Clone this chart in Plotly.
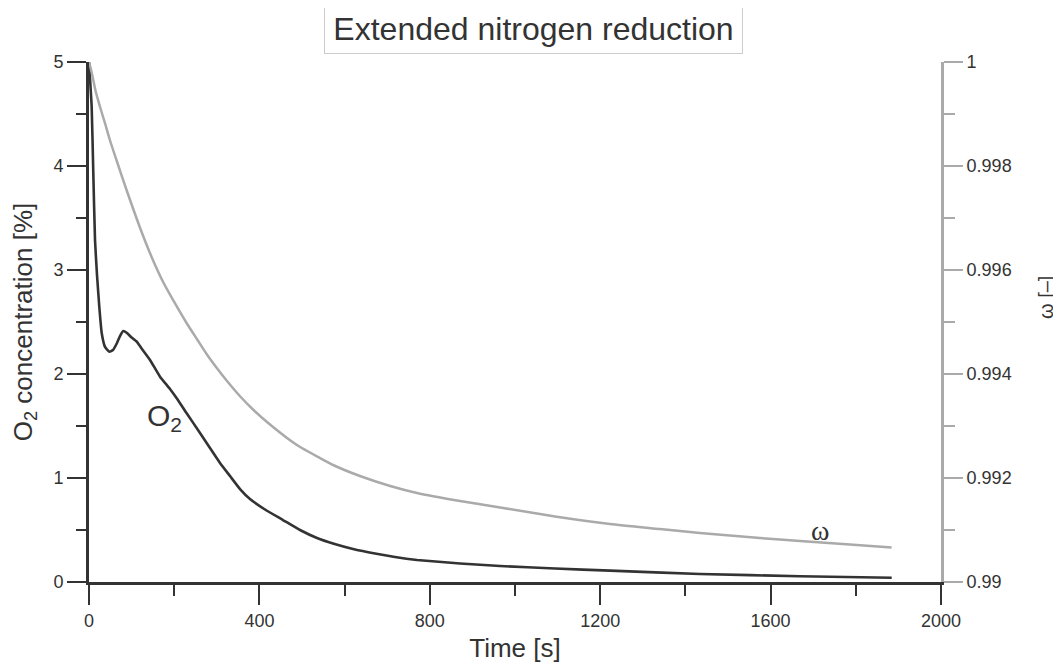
import plotly.graph_objects as go

# ---- data ----
time_o2 = [0, 6.3, 10.1, 14.1, 18.8, 24.2, 29.8, 37.6, 47.7, 56.3, 65.7, 72.8, 80.5, 89.2,
           98.6, 112, 124.4, 143.2, 166.7, 190.1, 205.9, 229.3, 260.6, 284, 307.5, 331,
           354.5, 377.9, 413.1, 455.4, 495.3, 535.2, 572.8, 624.4, 671.4, 718.3, 770,
           870.9, 964.8, 1093.9, 1223, 1434.3, 1669, 1884.3]
o2 = [5.0, 4.567, 3.933, 3.288, 2.952, 2.644, 2.394, 2.260, 2.214, 2.231, 2.298, 2.365,
      2.413, 2.394, 2.356, 2.311, 2.240, 2.135, 1.974, 1.856, 1.767, 1.622, 1.433, 1.288,
      1.144, 1.019, 0.894, 0.798, 0.697, 0.596, 0.500, 0.423, 0.370, 0.3125, 0.274,
      0.240, 0.2115, 0.178, 0.154, 0.130, 0.109, 0.077, 0.056, 0.041]

time_w = [0, 5, 10, 16, 26, 38, 49, 66, 89, 120, 148, 174, 202, 229, 254, 276, 300, 324,
          354, 385, 432, 488, 542, 573, 636, 707, 770, 871, 965, 1094, 1223, 1340, 1434,
          1575, 1669, 1786, 1884]
omega = [1.0, 0.999846, 0.999654, 0.999423, 0.999135, 0.998808, 0.9985, 0.998077,
         0.997519, 0.996808, 0.996231, 0.995769, 0.995356, 0.994981, 0.994663, 0.994385,
         0.994115, 0.993865, 0.993577, 0.993317, 0.992981, 0.992635, 0.992385, 0.99225,
         0.992038, 0.991846, 0.991712, 0.991558, 0.991433, 0.99126, 0.991115, 0.991019,
         0.990942, 0.990846, 0.990788, 0.990721, 0.990663]

x_ticks = [0, 400, 800, 1200, 1600, 2000]
x_ticklabels = ["0", "400", "800", "1200", "1600", "2000"]
y_ticks = [0, 1, 2, 3, 4, 5]
y_ticklabels = ["0", "1", "2", "3", "4", "5"]
y2_ticks = [0.99, 0.992, 0.994, 0.996, 0.998, 1.0]
y2_ticklabels = ["0.99", "0.992", "0.994", "0.996", "0.998", "1"]

title_text = "Extended nitrogen reduction"

DARK = "#333333"
GRAY = "#aaaaaa"
FONT = "Liberation Sans, Arial, sans-serif"

# page body has an 8px margin: figure coordinates = page coordinates - 8
OFF = 8
W, H = 1061 - OFF, 663 - OFF
L, R_EDGE, T, B_EDGE = 89 - OFF, 941 - OFF, 62 - OFF, 582 - OFF
PW, PH = R_EDGE - L, B_EDGE - T


def px(xp):
    return (xp - OFF - L) / PW


def py(yp):
    return (B_EDGE - (yp - OFF)) / PH


fig = go.Figure()
fig.add_trace(go.Scatter(x=time_w, y=omega, mode="lines", yaxis="y2",
                         line=dict(color=GRAY, width=2.5, shape="spline", smoothing=0.6),
                         showlegend=False))
fig.add_trace(go.Scatter(x=time_o2, y=o2, mode="lines", yaxis="y",
                         line=dict(color=DARK, width=2.6, shape="spline", smoothing=0.4),
                         showlegend=False))

fig.update_layout(
    width=W, height=H,
    margin=dict(l=L, r=W - R_EDGE, t=T, b=H - B_EDGE, autoexpand=False),
    paper_bgcolor="white", plot_bgcolor="white",
    font=dict(family=FONT, color=DARK, size=18),
    showlegend=False,
    xaxis=dict(
        range=[0, 2000], tickvals=x_ticks, ticktext=x_ticklabels,
        showgrid=False, zeroline=False, showline=True, linecolor=DARK, linewidth=3,
        ticks="outside", ticklen=20, tickwidth=2, tickcolor=DARK,
        minor=dict(dtick=200, ticks="outside", ticklen=11, tickwidth=2, tickcolor=DARK),
        tickfont=dict(size=18, color=DARK),
        title=dict(text="Time [s]", font=dict(size=26, color=DARK), standoff=13),
    ),
    yaxis=dict(
        range=[0, 5], tickvals=y_ticks, ticktext=y_ticklabels,
        showgrid=False, zeroline=False, showline=True, linecolor=DARK, linewidth=3,
        ticks="outside", ticklen=19, tickwidth=2, tickcolor=DARK,
        minor=dict(dtick=0.5, ticks="outside", ticklen=10, tickwidth=2, tickcolor=DARK),
        tickfont=dict(size=18, color=DARK),
        title=dict(text="O<sub>2</sub> concentration [%]", font=dict(size=26, color=DARK), standoff=15),
    ),
    yaxis2=dict(
        range=[0.99, 1.0], overlaying="y", side="right", anchor="x",
        tickvals=y2_ticks, ticktext=y2_ticklabels,
        showgrid=False, zeroline=False, showline=True, linecolor=GRAY, linewidth=3,
        ticks="outside", ticklen=19, tickwidth=2, tickcolor=GRAY,
        minor=dict(dtick=0.001, ticks="outside", ticklen=11, tickwidth=2, tickcolor=GRAY),
        tickfont=dict(size=18, color=DARK),
    ),
    annotations=[
        dict(text=title_text, xref="paper", yref="paper", x=px(533), y=py(28),
             xanchor="center", yanchor="middle", showarrow=False,
             font=dict(size=32, color=DARK, family=FONT),
             bordercolor="#cccccc", borderwidth=1, borderpad=4, width=409, height=41,
             bgcolor="white"),
        dict(text="ω [–]", xref="paper", yref="paper", x=px(1046), y=py(298),
             xanchor="center", yanchor="middle", showarrow=False, textangle=-90,
             font=dict(size=20, color=DARK, family=FONT)),
        dict(text="O<sub>2</sub>", xref="x", yref="y", x=178, y=1.58,
             xanchor="center", yanchor="middle", showarrow=False,
             font=dict(size=30, color=DARK, family=FONT)),
        dict(text="ω", xref="x", yref="y2", x=1716, y=0.991,
             xanchor="center", yanchor="middle", showarrow=False,
             font=dict(size=28, color=DARK, family="Liberation Serif, Times New Roman, serif")),
    ],
)

fig.write_html("out.html")
